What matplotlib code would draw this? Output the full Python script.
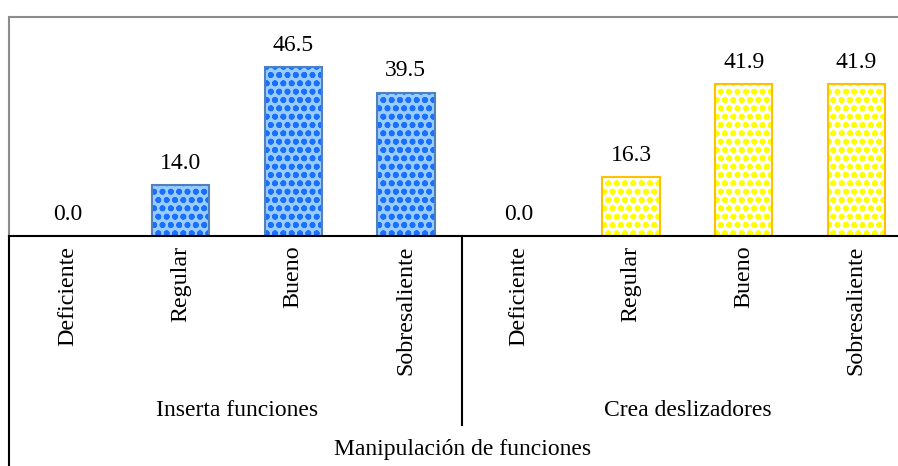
import numpy as np
import matplotlib.pyplot as plt

plt.rcParams['font.family'] = ['Liberation Serif', 'DejaVu Serif']
plt.rcParams['hatch.linewidth'] = 1.8

niveles = ["Deficiente", "Regular", "Bueno", "Sobresaliente"]
grupos = ["Inserta funciones", "Crea deslizadores"]
inserta = [0.0, 14.0, 46.5, 39.5]
crea = [0.0, 16.3, 41.9, 41.9]
titulo = "Manipulación de funciones"

fig = plt.figure(figsize=(8.98, 4.66), dpi=100)
ax = fig.add_axes([9 / 898, 1 - 236 / 466, 1 - 9 / 898, 219 / 466])

x1 = np.arange(len(niveles))
x2 = x1 + len(niveles)
w = 0.51

# fill + dotted texture, then the outline on top
ax.bar(x1, inserta, w, color="#99CCFF", edgecolor="#1A6FFF", hatch="oo", linewidth=0)
ax.bar(x1, inserta, w, fill=False, edgecolor="#4F81BD", linewidth=1.5)
ax.bar(x2, crea, w, color="white", edgecolor="#FFFF00", hatch="oo", linewidth=0)
ax.bar(x2, crea, w, fill=False, edgecolor="#FFC000", linewidth=1.5)

for xs, vals in [(x1, inserta), (x2, crea)]:
    for x, v in zip(xs, vals):
        ax.annotate(f"{v:.1f}", (x, v), xytext=(0, 8), textcoords="offset points",
                    ha="center", va="bottom", fontsize=17)

ax.set_xlim(-0.524, 7.37)
ax.set_ylim(0, 60.3)
ax.set_yticks([])
ax.set_xticks(np.concatenate([x1, x2]))
ax.set_xticklabels(niveles * 2, rotation=90, fontsize=17.3)
ax.tick_params(axis="x", length=0, pad=7)

ax.spines["right"].set_visible(False)
for s in ["top", "left"]:
    ax.spines[s].set_color("#8C8C8C")
    ax.spines[s].set_linewidth(1.5)
ax.spines["bottom"].set_color("black")
ax.spines["bottom"].set_linewidth(1.5)

# category axis frame lines below the plot
tr = ax.get_xaxis_transform()
ax.plot([-0.524, -0.524], [0, -1.1], color="black", lw=1.5, transform=tr, clip_on=False)
ax.plot([3.5, 3.5], [0, -0.863], color="black", lw=1.5, transform=tr, clip_on=False)

ax.text(1.5, -0.795, grupos[0], transform=tr, ha="center", va="center", fontsize=17)
ax.text(5.5, -0.795, grupos[1], transform=tr, ha="center", va="center", fontsize=17)
ax.text(3.5, -0.977, titulo, transform=tr, ha="center", va="center", fontsize=17)

fig.savefig("out.png", dpi=100)
